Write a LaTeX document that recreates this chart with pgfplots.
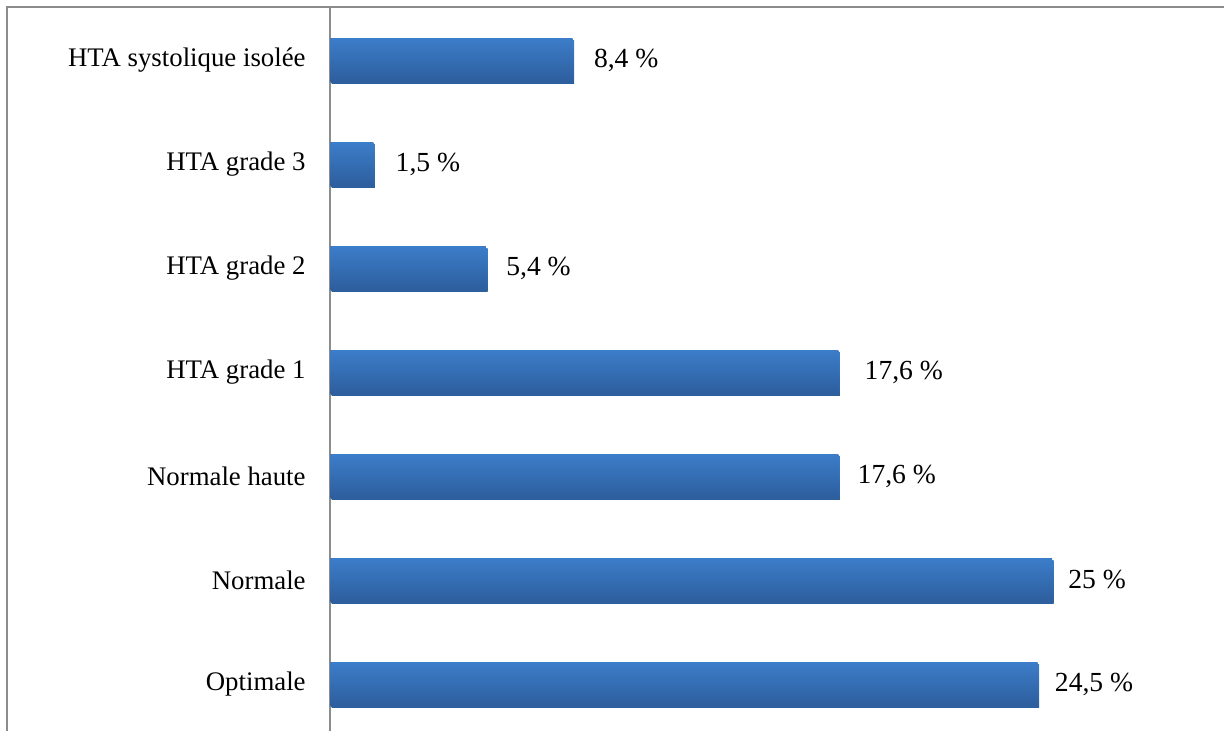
\documentclass[border=0pt]{standalone}
\usepackage{pgfplots}
\pgfplotsset{compat=1.18}
\usepackage{fontspec}
\setmainfont{Liberation Serif}

\definecolor{barTop}{RGB}{60,125,201}
\definecolor{barBot}{RGB}{45,94,157}
\definecolor{frameGray}{RGB}{140,140,140}

\pgfplotsset{
  hbar/.style={draw=none, top color=barTop, bottom color=barBot,
    preaction={fill=black!9, transform canvas={xshift=0.8pt, yshift=-1.2pt}},
    every node near coord/.append style={xshift=#1}},
}

\begin{document}
\begin{tikzpicture}
  % fixed page: 1224 x 731 units of 0.5pt
  \useasboundingbox (0pt,0pt) rectangle (612pt,365.5pt);
  % outer frame (top and left edges)
  \draw[frameGray, line width=1pt] (3.25pt,0pt) -- (3.25pt,361.75pt) -- (612pt,361.75pt);

  \begin{axis}[
    at={(165pt,0pt)}, anchor=south west,
    scale only axis,
    x=14.44pt, y=52pt,
    xmin=0, xmax=30.95,
    ymin=-0.452, ymax=6.5,
    axis x line=none,
    axis y line*=left,
    axis line style={frameGray, line width=1pt, -},
    ytick={0,...,6},
    yticklabels={Optimale,Normale,Normale haute,HTA grade 1,HTA grade 2,HTA grade 3,HTA systolique isolée},
    major tick length=0pt,
    yticklabel style={anchor=east, inner sep=0pt, xshift=-12pt,
      font=\fontsize{13.4}{15}\selectfont},
    clip=false,
    xbar,
    bar width=21.5pt,
    bar shift=0pt,
    /pgf/number format/use comma,
    /pgf/number format/fixed,
    /pgf/number format/assume math mode=true,
    nodes near coords={\pgfmathprintnumber{\pgfplotspointmeta}~\%},
    nodes near coords align={horizontal},
    every node near coord/.append style={anchor=west, inner sep=0pt,
      font=\fontsize{13.8}{15}\selectfont},
  ]
    % one plot per category so that each bar gets its own gradient
    \addplot[hbar=8.5pt]  coordinates {(24.5,0)};
    \addplot[hbar=8pt]    coordinates {(25,1)};
    \addplot[hbar=9.5pt]  coordinates {(17.6,2)};
    \addplot[hbar=13pt]   coordinates {(17.6,3)};
    \addplot[hbar=10pt]   coordinates {(5.4,4)};
    \addplot[hbar=11pt]   coordinates {(1.5,5)};
    \addplot[hbar=10.5pt] coordinates {(8.4,6)};
  \end{axis}
\end{tikzpicture}
\end{document}
